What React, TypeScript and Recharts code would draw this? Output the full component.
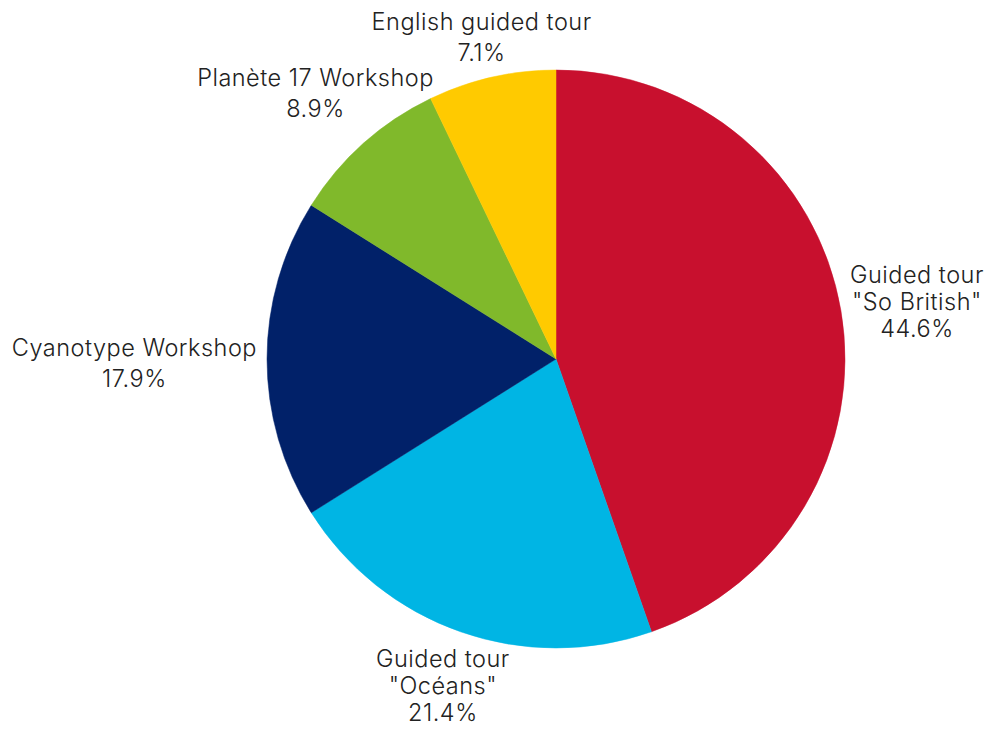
import React from 'react';
import { PieChart, Pie, Cell } from 'recharts';

// visits per activity (shares: 44.6 / 21.4 / 17.9 / 8.9 / 7.1 %)
const categories = [
  'Guided tour\n"So British"',
  'Guided tour\n"Océans"',
  'Cyanotype Workshop',
  'Planète 17 Workshop',
  'English guided tour',
];
const values = [25, 12, 10, 5, 4];
const colors = ['#C8102E', '#00B5E4', '#012169', '#80B92B', '#FFCA00'];

const data = categories.map((name, i) => ({ name, value: values[i] }));

const FONT_FAMILY = 'Inter, "Open Sans", sans-serif';
const FONT_SIZE = 23.5;
const SPACING = 0.5;
const PAD = 10;
const RAD = Math.PI / 180;

let ctx: CanvasRenderingContext2D | null = null;
function textWidth(s: string) {
  if (!ctx) {
    ctx = document.createElement('canvas').getContext('2d');
  }
  if (!ctx) return s.length * FONT_SIZE * 0.55;
  ctx.font = `300 ${FONT_SIZE}px ${FONT_FAMILY}`;
  return ctx.measureText(s).width + s.length * SPACING;
}

// outside label: centre pushed along the mid-angle ray until the text box clears the pie
const renderLabel = (props: any) => {
  const { cx, cy, midAngle, outerRadius, percent, name } = props;
  const lines: string[] = [...String(name).split('\n'), `${(percent * 100).toFixed(1)}%`];
  const lineH = lines.length > 2 ? 27 : 31;
  const w = Math.max(...lines.map(textWidth));
  const h = lines.length * lineH;
  const c = Math.cos(-midAngle * RAD);
  const s = Math.sin(-midAngle * RAD);
  const hw = w / 2;
  const hh = h / 2;
  const boxHit = Math.min(Math.abs(c) > 1e-6 ? hw / Math.abs(c) : Infinity, Math.abs(s) > 1e-6 ? hh / Math.abs(s) : Infinity);
  const ellipse = Math.sqrt((hw * c) ** 2 + (hh * s) ** 2);
  const d = outerRadius + PAD + (boxHit + ellipse) / 2;
  const x = cx + d * c;
  const y = cy + d * s + 3;
  const top = y - hh + lineH / 2;
  return (
    <text
      x={x}
      y={top}
      textAnchor="middle"
      dominantBaseline="central"
      fill="#222"
      fontFamily={FONT_FAMILY}
      fontSize={FONT_SIZE}
      fontWeight={300}
      letterSpacing={SPACING}
    >
      {lines.map((l, i) => (
        <tspan key={i} x={x} y={top + i * lineH}>
          {l}
        </tspan>
      ))}
    </text>
  );
};

export default function App() {
  return (
    <div style={{ position: 'absolute', left: 0, top: 0, width: 989, height: 734, background: '#fff' }}>
      <PieChart width={989} height={734} margin={{ top: 0, right: 0, bottom: 0, left: 0 }}>
        <Pie
          data={data}
          dataKey="value"
          nameKey="name"
          cx={556}
          cy={359}
          innerRadius={0}
          outerRadius={289}
          startAngle={90}
          endAngle={-270}
          label={renderLabel}
          labelLine={false}
          isAnimationActive={false}
        >
          {data.map((d, i) => (
            <Cell key={d.name} fill={colors[i]} stroke={colors[i]} strokeWidth={0.5} />
          ))}
        </Pie>
      </PieChart>
    </div>
  );
}
